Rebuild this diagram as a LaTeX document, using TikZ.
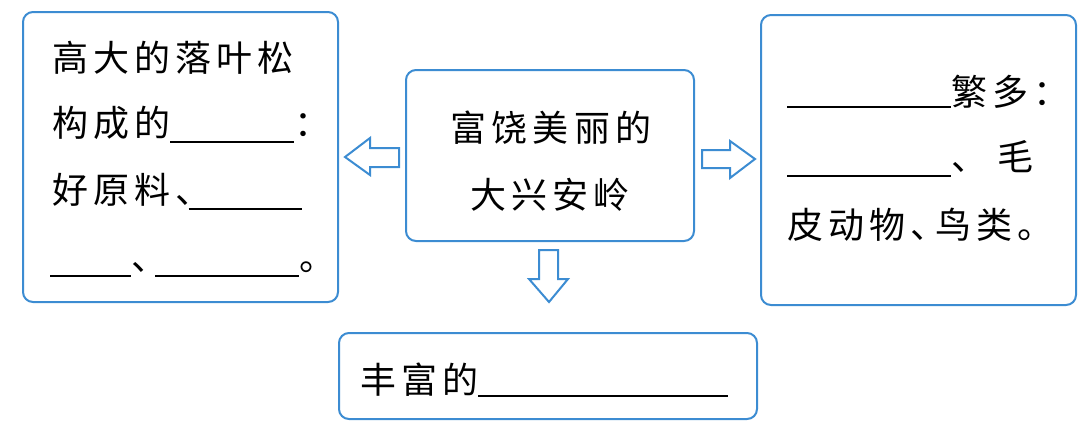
\documentclass[tikz,border=0pt]{standalone}
\usepackage{fontspec}
\setmainfont{Noto Sans CJK SC}[LetterSpace=14]
\definecolor{boxblue}{RGB}{60,140,210}
\newcommand\blank[2][3.5pt]{\rule[-#1]{#2}{0.8pt}}
\tikzset{
  box/.style={draw=boxblue, line width=1pt, rounded corners=5pt, fill=white, inner sep=0pt},
  txt/.style={anchor=base west, inner sep=0pt, font=\fontsize{18pt}{22pt}\selectfont},
  ctxt/.style={anchor=base, inner sep=0pt, font=\fontsize{18pt}{22pt}\selectfont},
  blockarrow/.style={draw=boxblue, line width=1pt, fill=white, line join=miter}
}
\begin{document}
\begin{tikzpicture}[x=0.5pt,y=-0.5pt]
\useasboundingbox (0,0) rectangle (1087,425);
% boxes
\node[box, minimum width=157.5pt, minimum height=145pt] (L) at (180.5,157) {};
\node[box, minimum width=144pt, minimum height=85.5pt] (C) at (550,155.5) {};
\node[box, minimum width=157.5pt, minimum height=145pt] (R) at (918.5,160) {};
\node[box, minimum width=209pt, minimum height=43pt] (B) at (548,376) {};
% left box text
\node[txt] (l1) at (52,71) {高大的落叶松};
\node[txt] (l2) at (52,136) {构成的\blank{62pt}：};
\node[txt] (l3) at (52,203) {好原料、\hspace{-11.5pt}\blank{56.5pt}};
\node[txt] (l4) at (50,270) {\blank{40.5pt}、\hspace{-6pt}\blank{72pt}。};
% centre box text
\node[ctxt] (c1) at (551,141) {富饶美丽的};
\node[ctxt] (c2) at (550,208) {大兴安岭};
% right box text
\node[txt] (r1) at (787,105) {\blank[1.5pt]{82pt}繁多：};
\node[txt] (r2) at (787,170) {\blank{82pt}、\hspace{5pt}毛};
\node[txt] (r3) at (787,238) {皮动物、\hspace{-5.5pt}鸟类。};
% bottom box text
\node[txt] (b1) at (360,393) {丰富的\blank[2pt]{125pt}};
% block arrows
\draw[blockarrow] (399,148) -- (370,148) -- (370,138) -- (345,157) -- (370,175) -- (370,167) -- (399,167) -- cycle;
\draw[blockarrow] (702,150) -- (730,150) -- (730,141) -- (755,159) -- (730,178) -- (730,168) -- (702,168) -- cycle;
\draw[blockarrow] (539,250) -- (558,250) -- (558,279) -- (568,279) -- (549,302) -- (529,279) -- (539,279) -- cycle;
\end{tikzpicture}
\end{document}
